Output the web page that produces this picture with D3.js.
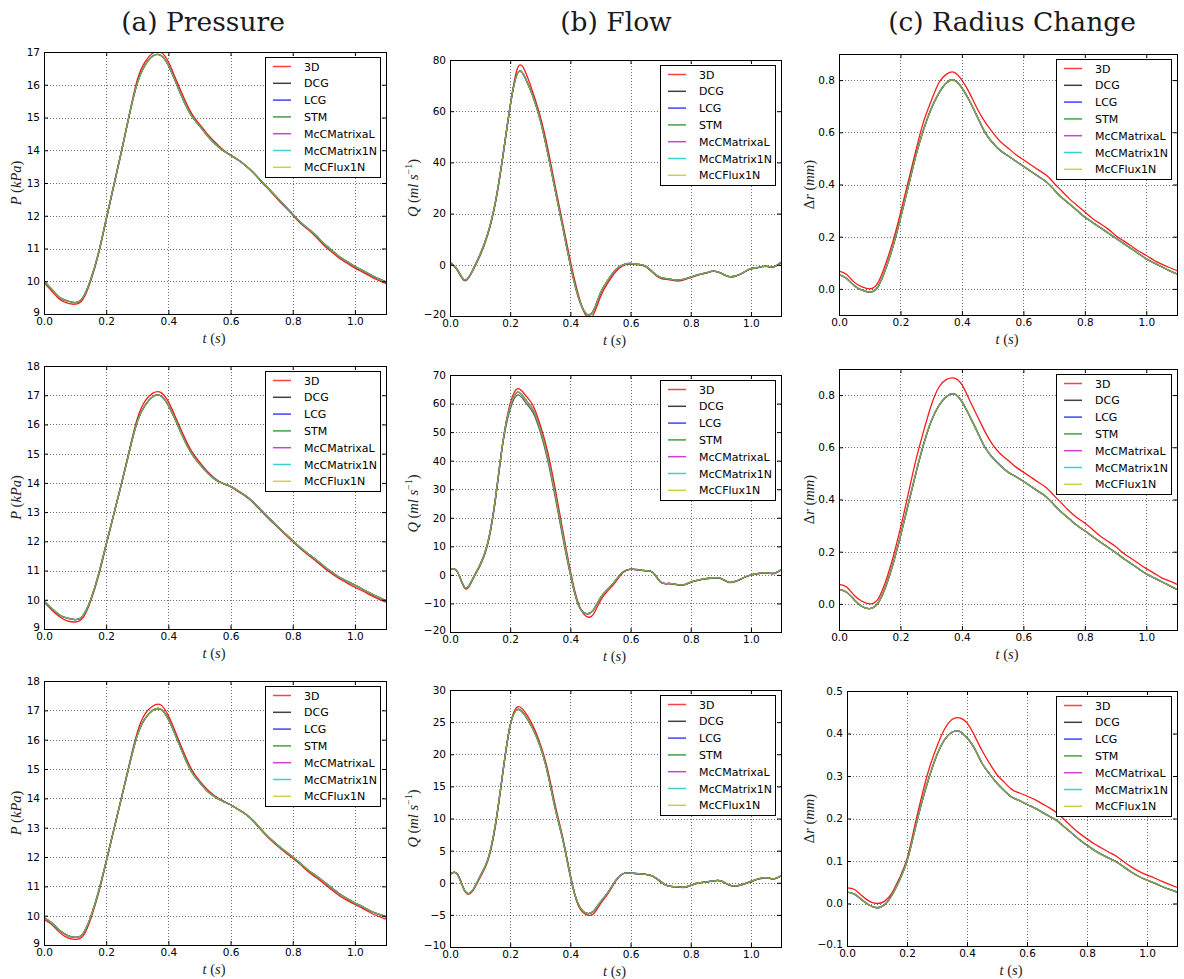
<!DOCTYPE html>
<html><head><meta charset="utf-8">
<script src="https://cdn.jsdelivr.net/npm/d3@7"></script>
<style>body{margin:0;background:#fff}</style>
</head><body>
<svg id="chart" width="1184" height="979"></svg>
<script>
// ---------------- DATA ----------------
const time = [0,0.025,0.05,0.075,0.1,0.125,0.15,0.175,0.2,0.225,0.25,0.275,0.3,0.325,0.35,0.375,0.4,0.425,0.45,0.475,0.5,0.525,0.55,0.575,0.6,0.625,0.65,0.675,0.7,0.725,0.75,0.775,0.8,0.825,0.85,0.875,0.9,0.925,0.95,0.975,1.0,1.025,1.05,1.075,1.1];
const seriesNames = ["3D","DCG","LCG","STM","McCMatrixaL","McCMatrix1N","McCFlux1N"];
const seriesColors = ["#ff0000","#000000","#0000ff","#008000","#bf00bf","#00bfbf","#bfbf00"];
const titles = ["(a) Pressure","(b) Flow","(c) Radius Change"];
const xTicks = [0,0.2,0.4,0.6,0.8,1.0];

// Row 1
const pressure1_3D = [9.95,9.7,9.45,9.33,9.3,9.45,10.0,10.82,11.87,12.93,14.0,15.12,16.15,16.7,16.97,17.0,16.7,16.15,15.6,15.12,14.8,14.5,14.25,14.02,13.85,13.7,13.52,13.3,13.03,12.78,12.52,12.27,12.02,11.77,11.57,11.35,11.1,10.9,10.7,10.55,10.4,10.28,10.15,10.03,9.93];
const pressure1_1D = [10.0,9.75,9.5,9.4,9.35,9.5,10.05,10.85,11.9,12.95,14.0,15.1,16.05,16.6,16.88,16.9,16.6,16.05,15.5,15.05,14.75,14.45,14.2,14.0,13.85,13.7,13.52,13.3,13.05,12.8,12.55,12.3,12.05,11.8,11.6,11.4,11.15,10.95,10.75,10.6,10.45,10.33,10.2,10.08,9.98];
const flow1_3D = [1,-2.3,-6.3,-2.5,3.5,11.5,23.5,41.5,62,77,75.5,67.5,58,45.5,30.5,16,1.5,-11,-19.5,-19.8,-12.5,-7,-2.8,-0.3,0.3,0,-0.7,-3.2,-5.3,-5.8,-6.3,-6,-5,-4,-3.3,-2.6,-3.3,-4.6,-4.4,-3.1,-1.6,-1.1,-0.6,-0.9,0.9];
const flow1_1D = [1,-2,-6,-2.2,4,12,24,42,62,75,73,66,56.5,43.5,29,14.5,0,-12,-18.8,-18.3,-11,-6,-2,0,0.5,0.2,-0.5,-3,-5,-5.5,-6,-5.7,-4.8,-3.8,-3.2,-2.5,-3.2,-4.5,-4.3,-3,-1.5,-1,-0.5,-0.8,1];
const radius1_3D = [0.068,0.055,0.025,0.008,0.0,0.02,0.09,0.18,0.29,0.41,0.53,0.64,0.72,0.79,0.823,0.83,0.8,0.75,0.69,0.64,0.6,0.565,0.54,0.515,0.495,0.475,0.455,0.435,0.405,0.375,0.345,0.32,0.295,0.27,0.25,0.23,0.205,0.185,0.165,0.145,0.128,0.11,0.095,0.082,0.07];
const radius1_1D = [0.055,0.04,0.012,-0.005,-0.012,0.005,0.07,0.16,0.27,0.39,0.51,0.61,0.69,0.75,0.79,0.8,0.77,0.72,0.66,0.6,0.56,0.53,0.51,0.49,0.47,0.45,0.43,0.41,0.38,0.35,0.325,0.3,0.275,0.255,0.235,0.215,0.195,0.175,0.155,0.135,0.115,0.1,0.085,0.07,0.057];

// Row 2
const pressure2_3D = [9.92,9.65,9.42,9.28,9.24,9.38,9.95,10.8,11.87,12.95,14.02,15.15,16.2,16.8,17.07,17.1,16.78,16.2,15.6,15.08,14.72,14.4,14.15,13.98,13.87,13.7,13.53,13.3,13.02,12.75,12.5,12.24,11.99,11.75,11.53,11.32,11.1,10.9,10.72,10.57,10.43,10.3,10.16,10.03,9.92];
const pressure2_1D = [9.95,9.7,9.48,9.37,9.32,9.45,10.0,10.85,11.9,12.95,14.0,15.1,16.1,16.65,16.95,16.98,16.65,16.1,15.5,15.0,14.65,14.35,14.12,13.98,13.88,13.72,13.55,13.32,13.05,12.78,12.52,12.27,12.02,11.78,11.57,11.37,11.15,10.95,10.77,10.63,10.5,10.36,10.22,10.09,9.97];
const flow2_3D = [2,1,-4.8,-1.8,3.2,10.5,25.5,46,60,65.2,63,59.5,52.5,43,30,15.5,1.5,-9.5,-14.3,-14,-9,-5.5,-2.5,0.8,1.9,1.7,1.4,0.7,-2.6,-3.1,-3.4,-3.6,-2.6,-1.9,-1.4,-1.1,-1.3,-2.6,-2.3,-1.1,-0.1,0.4,0.7,0.4,1.7];
const flow2_DCG = [2,1,-4.5,-1.5,3.5,11,26,45.5,58,63,60.5,57,50,40,27,13,0,-10,-13.5,-12.5,-8,-5,-2,1,2,1.8,1.5,0.8,-2.5,-3,-3.3,-3.5,-2.5,-1.8,-1.3,-1,-1.2,-2.5,-2.2,-1,0,0.5,0.8,0.5,1.8];
const flow2_1D = [2,1,-4.5,-1.5,3.5,11,26,46,59,64,61.5,58,51,41,28,14,0.5,-10,-13.5,-12.5,-8,-5,-2,1,2,1.8,1.5,0.8,-2.5,-3,-3.3,-3.5,-2.5,-1.8,-1.3,-1,-1.2,-2.5,-2.2,-1,0,0.5,0.8,0.5,1.8];
const radius2_3D = [0.075,0.065,0.032,0.01,0.0,0.015,0.08,0.175,0.29,0.42,0.55,0.66,0.76,0.83,0.86,0.865,0.84,0.78,0.72,0.66,0.61,0.575,0.55,0.525,0.505,0.485,0.465,0.445,0.415,0.385,0.355,0.33,0.31,0.285,0.26,0.24,0.22,0.195,0.175,0.155,0.135,0.118,0.1,0.088,0.075];
const radius2_1D = [0.055,0.045,0.015,-0.01,-0.018,0.0,0.06,0.15,0.26,0.38,0.5,0.61,0.7,0.76,0.795,0.805,0.775,0.72,0.66,0.6,0.56,0.53,0.505,0.488,0.47,0.45,0.43,0.41,0.38,0.35,0.325,0.3,0.28,0.258,0.237,0.217,0.197,0.175,0.155,0.135,0.115,0.1,0.085,0.07,0.055];

// Row 3
const pressure3_3D = [9.87,9.7,9.43,9.25,9.19,9.3,9.88,10.75,11.82,12.95,14.07,15.2,16.25,16.88,17.15,17.19,16.82,16.2,15.55,14.98,14.6,14.3,14.08,13.92,13.78,13.62,13.45,13.2,12.9,12.62,12.38,12.16,11.96,11.74,11.5,11.3,11.1,10.88,10.68,10.52,10.38,10.25,10.1,9.98,9.88];
const pressure3_1D = [9.94,9.75,9.5,9.33,9.26,9.38,9.95,10.8,11.85,12.95,14.05,15.15,16.15,16.72,17.0,17.04,16.7,16.1,15.45,14.9,14.55,14.25,14.05,13.9,13.78,13.62,13.45,13.22,12.92,12.65,12.42,12.2,12.0,11.78,11.55,11.36,11.16,10.95,10.75,10.58,10.43,10.3,10.16,10.05,9.96];
const flow3_3D = [1.3,1.3,-1.4,-1.3,0.8,3.3,8.5,16.8,24.5,27.4,26.5,24.5,21.6,17.5,12,7,1.2,-3.4,-4.9,-4.9,-3.3,-1.7,0.2,1.4,1.5,1.4,1.3,1.0,0.1,-0.5,-0.65,-0.75,-0.45,-0.05,0.1,0.25,0.3,-0.35,-0.55,-0.25,0.15,0.55,0.75,0.6,1.05];
const flow3_1D = [1.3,1.3,-1.3,-1.2,1.0,3.5,8.8,17,24.5,27,26,24,21.2,17,11.5,6.7,1,-3.2,-4.7,-4.5,-3,-1.5,0.3,1.4,1.5,1.4,1.3,1.0,0.2,-0.5,-0.6,-0.7,-0.4,0,0.1,0.3,0.3,-0.3,-0.5,-0.2,0.2,0.6,0.8,0.6,1.1];
const radius3_3D = [0.037,0.033,0.018,0.005,0.0,0.005,0.025,0.06,0.105,0.18,0.255,0.32,0.37,0.41,0.433,0.437,0.425,0.395,0.36,0.33,0.303,0.285,0.268,0.26,0.253,0.245,0.235,0.225,0.213,0.197,0.18,0.165,0.152,0.14,0.13,0.12,0.11,0.097,0.085,0.075,0.067,0.06,0.052,0.045,0.038];
const radius3_1D = [0.027,0.022,0.008,-0.004,-0.01,-0.003,0.02,0.055,0.1,0.17,0.24,0.3,0.35,0.385,0.403,0.405,0.39,0.365,0.33,0.305,0.283,0.265,0.25,0.242,0.233,0.225,0.215,0.205,0.195,0.18,0.165,0.15,0.137,0.125,0.115,0.106,0.097,0.085,0.073,0.063,0.055,0.048,0.04,0.033,0.027];

// Tick values
const yTicksP1 = [9,10,11,12,13,14,15,16,17];
const yTicksP23 = [9,10,11,12,13,14,15,16,17,18];
const yTicksQ1 = [-20,0,20,40,60,80];
const yTicksQ2 = [-20,-10,0,10,20,30,40,50,60,70];
const yTicksQ3 = [-10,-5,0,5,10,15,20,25,30];
const yTicksR12 = [0.0,0.2,0.4,0.6,0.8];
const yTicksR3 = [-0.1,0.0,0.1,0.2,0.3,0.4,0.5];

// --------------- LAYOUT ---------------
const fInt = d3.format("d"), f1 = d3.format(".1f");
const panels = [
 {kind:"P", x0:44, x1:386, y0:52, y1:314, dom:[9,17], ticks:yTicksP1, fmt:fInt, s3D:pressure1_3D, s1D:pressure1_1D},
 {kind:"Q", x0:450, x1:781, y0:60, y1:316, dom:[-20,80], ticks:yTicksQ1, fmt:fInt, s3D:flow1_3D, s1D:flow1_1D},
 {kind:"R", x0:839, x1:1177, y0:54, y1:315, dom:[-0.1,0.9], ticks:yTicksR12, fmt:f1, s3D:radius1_3D, s1D:radius1_1D},
 {kind:"P", x0:44, x1:386, y0:366, y1:629, dom:[9,18], ticks:yTicksP23, fmt:fInt, s3D:pressure2_3D, s1D:pressure2_1D},
 {kind:"Q", x0:450, x1:781, y0:375, y1:632, dom:[-20,70], ticks:yTicksQ2, fmt:fInt, s3D:flow2_3D, s1D:flow2_1D, sDCG:flow2_DCG},
 {kind:"R", x0:839, x1:1177, y0:369, y1:630, dom:[-0.1,0.9], ticks:yTicksR12, fmt:f1, s3D:radius2_3D, s1D:radius2_1D},
 {kind:"P", x0:44, x1:386, y0:681, y1:945, dom:[9,18], ticks:yTicksP23, fmt:fInt, s3D:pressure3_3D, s1D:pressure3_1D},
 {kind:"Q", x0:450, x1:781, y0:690, y1:947, dom:[-10,30], ticks:yTicksQ3, fmt:fInt, s3D:flow3_3D, s1D:flow3_1D},
 {kind:"R", x0:847, x1:1177, y0:691, y1:946, dom:[-0.1,0.5], ticks:yTicksR3, fmt:f1, s3D:radius3_3D, s1D:radius3_1D}
];

const svg = d3.select("#chart");
const sansFont = "'DejaVu Sans', sans-serif";
const serifFont = "'Liberation Serif', 'DejaVu Serif', serif";

// Titles
const titlePos = [203, 616, 1012];
titles.forEach((t,i)=>{
  svg.append("text").attr("x", titlePos[i]).attr("y", 31)
    .attr("text-anchor","middle").attr("font-family","'DejaVu Serif', serif")
    .attr("font-size", 26.5).attr("fill","#1a1a1a").text(t);
});

panels.forEach((p, idx) => {
  const x = d3.scaleLinear().domain([0,1.1]).range([p.x0, p.x1]);
  const y = d3.scaleLinear().domain(p.dom).range([p.y1, p.y0]);
  const g = svg.append("g");
  const clipId = "clip"+idx;
  g.append("clipPath").attr("id", clipId).append("rect")
    .attr("x", p.x0).attr("y", p.y0).attr("width", p.x1-p.x0).attr("height", p.y1-p.y0);

  // grid
  g.selectAll(".gx").data(xTicks.filter(v=>v>0)).enter().append("line")
    .attr("x1", d=>Math.round(x(d))+0.5).attr("x2", d=>Math.round(x(d))+0.5)
    .attr("y1", p.y0).attr("y2", p.y1)
    .attr("stroke","#000").attr("stroke-width",0.7).attr("stroke-dasharray","1,2").attr("opacity",0.8);
  g.selectAll(".gy").data(p.ticks.filter(v=>v>p.dom[0] && v<p.dom[1])).enter().append("line")
    .attr("y1", d=>Math.round(y(d))+0.5).attr("y2", d=>Math.round(y(d))+0.5)
    .attr("x1", p.x0).attr("x2", p.x1)
    .attr("stroke","#000").attr("stroke-width",0.7).attr("stroke-dasharray","1,2").attr("opacity",0.8);

  // curves
  const line = d3.line().x((d,i)=>x(time[i])).y(d=>y(d)).curve(d3.curveNatural);
  const cg = g.append("g").attr("clip-path", `url(#${clipId})`);
  seriesNames.forEach((name, si) => {
    const vals = si===0 ? p.s3D : (si===1 && p.sDCG ? p.sDCG : p.s1D);
    cg.append("path").datum(vals).attr("d", line)
      .attr("fill","none").attr("stroke", seriesColors[si])
      .attr("stroke-width", 1.3).attr("stroke-opacity", si===0 ? 0.9 : 0.6);
  });

  // axes
  const fontSize = 10.5;
  const ax = (gen, tr) => {
    const a = g.append("g").attr("transform", tr).call(gen);
    a.select(".domain").remove();
    a.selectAll("text").attr("font-family", sansFont).attr("font-size", fontSize).attr("fill","#000");
    a.selectAll("line").attr("stroke","#000");
    return a;
  };
  ax(d3.axisBottom(x).tickValues(xTicks).tickFormat(f1).tickSize(-4).tickPadding(4), `translate(0,${p.y1})`);
  ax(d3.axisTop(x).tickValues(xTicks).tickFormat("").tickSize(-4), `translate(0,${p.y0})`);
  const la = ax(d3.axisLeft(y).tickValues(p.ticks).tickFormat(p.fmt).tickSize(-4).tickPadding(4), `translate(${p.x0},0)`);
  la.selectAll(".tick text").filter(d=>d===p.dom[0]).attr("dy","0.1em");
  ax(d3.axisRight(y).tickValues(p.ticks).tickFormat("").tickSize(-4), `translate(${p.x1},0)`);

  // frame
  g.append("rect").attr("x", p.x0+0.5).attr("y", p.y0+0.5)
    .attr("width", p.x1-p.x0).attr("height", p.y1-p.y0)
    .attr("fill","none").attr("stroke","#000").attr("stroke-width",1);

  // x label
  const xl = g.append("text").attr("x", (p.x0+p.x1)/2 - 1).attr("y", p.y1+29)
    .attr("text-anchor","middle").attr("font-family", serifFont).attr("font-size", 14.5).attr("fill","#222");
  xl.append("tspan").attr("font-style","italic").text("t");
  xl.append("tspan").text(" (");
  xl.append("tspan").attr("font-style","italic").text("s");
  xl.append("tspan").text(")");

  // y label
  const ylx = p.kind==="P" ? 21 : (p.kind==="Q" ? 418 : 814);
  const yl = g.append("text").attr("transform", `translate(${ylx},${(p.y0+p.y1)/2}) rotate(-90)`)
    .attr("text-anchor","middle").attr("font-family", serifFont).attr("font-size", 14.5).attr("fill","#222");
  if (p.kind==="P") {
    yl.append("tspan").attr("font-style","italic").text("P");
    yl.append("tspan").text(" (");
    yl.append("tspan").attr("font-style","italic").text("kPa");
    yl.append("tspan").text(")");
  } else if (p.kind==="Q") {
    yl.append("tspan").attr("font-style","italic").text("Q");
    yl.append("tspan").text(" (");
    yl.append("tspan").attr("font-style","italic").text("ml s");
    yl.append("tspan").attr("font-size", 10).attr("dy", -6).text("−1");
    yl.append("tspan").attr("dy", 6).text(")");
  } else {
    yl.append("tspan").text("Δ");
    yl.append("tspan").attr("font-style","italic").text("r");
    yl.append("tspan").text(" (");
    yl.append("tspan").attr("font-style","italic").text("mm");
    yl.append("tspan").text(")");
  }

  // legend
  const lw = 115, lh = 120;
  const lx = p.x1 - 6 - lw, ly = p.y0 + 5;
  const lg = g.append("g").attr("transform", `translate(${lx},${ly})`);
  lg.append("rect").attr("x",0.5).attr("y",0.5).attr("width", lw).attr("height", lh)
    .attr("fill","#fff").attr("stroke","#000").attr("stroke-width",1);
  seriesNames.forEach((name, si) => {
    const yy = 9.5 + si*16.8;
    lg.append("line").attr("x1", 8).attr("x2", 26).attr("y1", yy).attr("y2", yy)
      .attr("stroke", seriesColors[si]).attr("stroke-width", 1.5).attr("stroke-opacity", 0.75);
    lg.append("text").attr("x", 39).attr("y", yy + 4).attr("font-family", sansFont)
      .attr("font-size", 11).attr("fill","#000").text(name);
  });
});
</script>
</body></html>
